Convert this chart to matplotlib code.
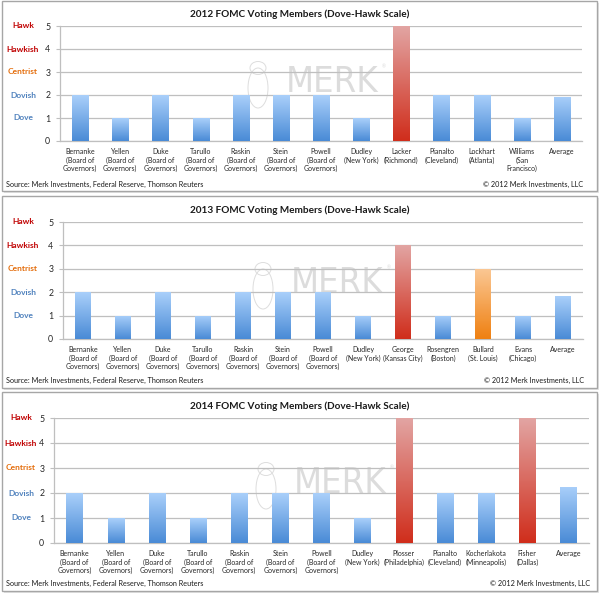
import numpy as np
import matplotlib
matplotlib.use("Agg")
import matplotlib.pyplot as plt
from matplotlib.patches import Rectangle, Ellipse
from matplotlib.colors import LinearSegmentedColormap
from matplotlib import font_manager

plt.rcParams['font.family'] = ['Lato', 'DejaVu Sans']

# ---------------- data ----------------
titles = ["2012 FOMC Voting Members (Dove-Hawk Scale)",
          "2013 FOMC Voting Members (Dove-Hawk Scale)",
          "2014 FOMC Voting Members (Dove-Hawk Scale)"]

labels_2012 = ["Bernanke\n(Board of\nGovernors)", "Yellen\n(Board of\nGovernors)",
               "Duke\n(Board of\nGovernors)", "Tarullo\n(Board of\nGovernors)",
               "Raskin\n(Board of\nGovernors)", "Stein\n(Board of\nGovernors)",
               "Powell\n(Board of\nGovernors)", "Dudley\n(New York)",
               "Lacker\n(Richmond)", "Pianalto\n(Cleveland)", "Lockhart\n(Atlanta)",
               "Williams\n(San\nFrancisco)", "Average"]
values_2012 = [2, 1, 2, 1, 2, 2, 2, 1, 5, 2, 2, 1, 1.92]
colors_2012 = ["b", "b", "b", "b", "b", "b", "b", "b", "r", "b", "b", "b", "b"]

labels_2013 = ["Bernanke\n(Board of\nGovernors)", "Yellen\n(Board of\nGovernors)",
               "Duke\n(Board of\nGovernors)", "Tarullo\n(Board of\nGovernors)",
               "Raskin\n(Board of\nGovernors)", "Stein\n(Board of\nGovernors)",
               "Powell\n(Board of\nGovernors)", "Dudley\n(New York)",
               "George\n(Kansas City)", "Rosengren\n(Boston)", "Bullard\n(St. Louis)",
               "Evans\n(Chicago)", "Average"]
values_2013 = [2, 1, 2, 1, 2, 2, 2, 1, 4, 1, 3, 1, 1.83]
colors_2013 = ["b", "b", "b", "b", "b", "b", "b", "b", "r", "b", "o", "b", "b"]

labels_2014 = ["Bernanke\n(Board of\nGovernors)", "Yellen\n(Board of\nGovernors)",
               "Duke\n(Board of\nGovernors)", "Tarullo\n(Board of\nGovernors)",
               "Raskin\n(Board of\nGovernors)", "Stein\n(Board of\nGovernors)",
               "Powell\n(Board of\nGovernors)", "Dudley\n(New York)",
               "Plosser\n(Philadelphia)", "Pianalto\n(Cleveland)",
               "Kocherlakota\n(Minneapolis)", "Fisher\n(Dallas)", "Average"]
values_2014 = [2, 1, 2, 1, 2, 2, 2, 1, 5, 2, 2, 5, 2.25]
colors_2014 = ["b", "b", "b", "b", "b", "b", "b", "b", "r", "b", "b", "r", "b"]

scale_labels = ["Dove", "Dovish", "Centrist", "Hawkish", "Hawk"]
scale_colors = ["#4F81BD", "#4F81BD", "#E46C0A", "#C00000", "#C00000"]
yticks = [0, 1, 2, 3, 4, 5]

source_text = "Source: Merk Investments, Federal Reserve, Thomson Reuters"
copy_text = "\u00a9 2012 Merk Investments, LLC"

# ---------------- style ----------------
W, H = 600, 593
grad = {
    "b": ("#A9CFFA", "#4A8BD6"),
    "r": ("#E2A4A2", "#D02E1C"),
    "o": ("#FBC794", "#EF8112"),
}

has_condensed = any(f.name == 'DejaVu Sans' and str(f.stretch) in ('condensed', 'semi-condensed')
                    for f in font_manager.fontManager.ttflist)
wm_kw = dict(family=['DejaVu Sans'], fontstretch='condensed', fontsize=26) if has_condensed \
    else dict(family=['DejaVu Sans'], fontsize=23)

fig = plt.figure(figsize=(W / 100, H / 100), dpi=100)
fig.patch.set_facecolor("white")


def fbox(x0, y0, x1, y1):
    return [x0 / W, 1 - y1 / H, (x1 - x0) / W, (y1 - y0) / H]


panels = [
    dict(box=(2, 1, 597, 191), ax=(60, 26, 582, 141), title_y=14, cat_x=23,
         src_y=184, labels=labels_2012, values=values_2012, colors=colors_2012,
         wm=(332, 82)),
    dict(box=(2, 196, 597, 388), ax=(63, 222, 583, 339), title_y=210, cat_x=23,
         src_y=380, labels=labels_2013, values=values_2013, colors=colors_2013,
         wm=(337, 283)),
    dict(box=(2, 392, 597, 591), ax=(54, 418, 589, 543), title_y=406, cat_x=21,
         src_y=583, labels=labels_2014, values=values_2014, colors=colors_2014,
         wm=(340, 483)),
]

bg = fig.add_axes([0, 0, 1, 1], zorder=-5)
bg.set_xlim(0, W)
bg.set_ylim(H, 0)
bg.axis("off")

for i, p in enumerate(panels):
    x0, y0, x1, y1 = p["box"]
    bg.add_patch(Rectangle((x0 + 1.5, y0 + 1.5), x1 - x0, y1 - y0, facecolor="#E4E4E4",
                           edgecolor="none", zorder=0))
    bg.add_patch(Rectangle((x0, y0), x1 - x0, y1 - y0, facecolor="white",
                           edgecolor="#A6A6A6", linewidth=1.0, zorder=1))
    ax0, ay0, ax1, ay1 = p["ax"]
    bg.text(300, p["title_y"], titles[i], ha="center", va="center",
            fontsize=7.2, fontweight="bold", color="#1A1A1A", zorder=3)
    bg.text(x0 + 4, p["src_y"], source_text, ha="left", va="center", fontsize=5.2,
            color="#1A1A1A", zorder=3)
    bg.text(ax1 + 1, p["src_y"], copy_text, ha="right", va="center", fontsize=5.2,
            color="#1A1A1A", zorder=3)
    for k, (lab, col) in enumerate(zip(scale_labels, scale_colors)):
        yy = ay1 - (k + 1) * (ay1 - ay0) / 5
        bg.text(p["cat_x"], yy, lab, ha="center", va="center", fontsize=6.0,
                fontweight="bold", color=col, zorder=3)
    # watermark
    wx, wy = p["wm"]
    bg.text(wx, wy, "MERK", ha="center", va="center", color="#DCDCDC", zorder=2, **wm_kw)
    bg.text(wx + 50, wy - 15, "\u00ae", ha="left", va="center", fontsize=3.5,
            color="#DCDCDC", zorder=2)
    ox, oy = wx - 74, wy + 2
    bg.add_patch(Ellipse((ox, oy + 4), 20, 40, facecolor="none", edgecolor="#DDDDDD",
                         linewidth=0.7, zorder=2))
    bg.add_patch(Ellipse((ox, oy - 16), 16, 13, facecolor="none", edgecolor="#DDDDDD",
                         linewidth=0.7, zorder=2))

for i, p in enumerate(panels):
    ax0, ay0, ax1, ay1 = p["ax"]
    ax = fig.add_axes(fbox(ax0, ay0, ax1, ay1))
    ax.patch.set_alpha(0)
    n = len(p["values"])
    x = np.arange(n)
    bars = ax.bar(x, p["values"], width=0.4, facecolor="none", edgecolor="none", zorder=3)
    for b, c in zip(bars, p["colors"]):
        top, bot = grad[c]
        cmap = LinearSegmentedColormap.from_list("g", [bot, top])
        bx = b.get_x()
        bw, bh = b.get_width(), b.get_height()
        img = ax.imshow(np.linspace(0, 1, 64).reshape(-1, 1), cmap=cmap, aspect="auto",
                        origin="lower", extent=[bx, bx + bw, 0, bh], zorder=3,
                        interpolation="bilinear")
        img.set_clip_path(b)
    ax.set_xlim(-0.5, n - 0.5)
    ax.set_ylim(0, 5)
    ax.set_yticks(yticks)
    ax.set_yticklabels([str(t) for t in yticks], fontsize=6.3, color="#262626")
    ax.set_xticks(x)
    ax.set_xticklabels(p["labels"], fontsize=5.0, color="#262626", linespacing=1.25)
    ax.tick_params(axis="x", length=0, pad=5)
    ax.tick_params(axis="y", length=3, color="#BFBFBF", width=0.8, pad=4)
    ax.grid(axis="y", color="#BFBFBF", linewidth=0.9, zorder=0)
    ax.set_axisbelow(True)
    for s in ["top", "right"]:
        ax.spines[s].set_visible(False)
    for s in ["left", "bottom"]:
        ax.spines[s].set_color("#BFBFBF")
        ax.spines[s].set_linewidth(0.9)

fig.savefig("out.png", dpi=100, facecolor="white")
